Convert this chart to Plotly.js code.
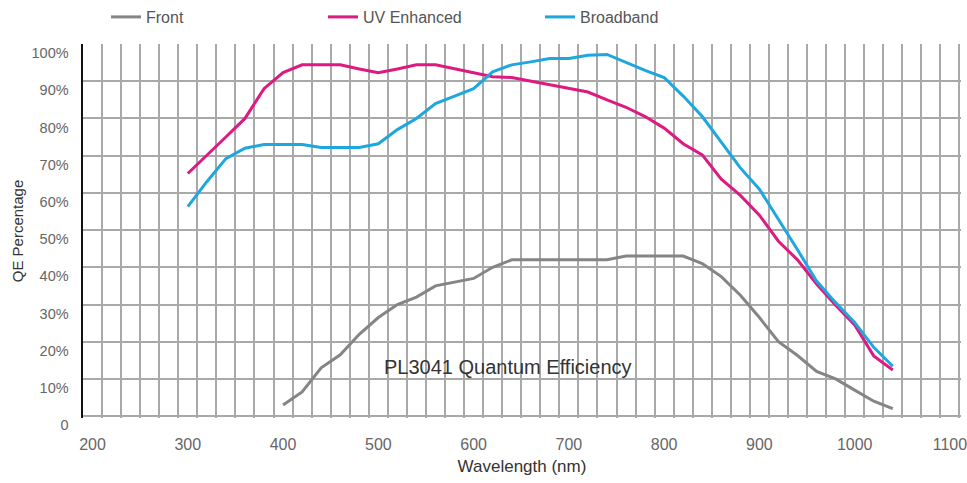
<!DOCTYPE html>
<html><head><meta charset="utf-8">
<script src="https://cdn.plot.ly/plotly-3.0.1.min.js"></script>
<style>html,body{margin:0;padding:0;background:#fff}#chart{width:967px;height:483px}</style>
</head><body><div id="chart"></div>
<script>
const wavelengthFront = [400,420,440,460,480,500,520,540,560,580,600,620,640,660,680,700,720,740,760,780,800,820,840,860,880,900,920,940,960,980,1000,1020,1040];
const front = [3,6.5,13,16.5,22,26.5,30,32,35,36,37,40,42,42,42,42,42,42,43,43,43,43,41,37.5,32.5,26.5,20,16.3,12,10,7,4,2];
const wavelength = [300,320,340,360,380,400,420,440,460,480,500,520,540,560,580,600,620,640,660,680,700,720,740,760,780,800,820,840,860,880,900,920,940,960,980,1000,1020,1040];
const uvEnhanced = [65.2,70,75,80,88,92.3,94.4,94.4,94.4,93.3,92.3,93.3,94.4,94.4,93.3,92.4,91.2,91,90,89,88,87.1,85,83,80.5,77.4,73.2,70.2,63.7,59.3,54,47,42,35.5,29.8,24.5,16.2,12.4];
const broadband = [56.3,63,69.2,72,73,73,73,72.2,72.2,72.2,73.2,77,80,84,86,88,92.5,94.4,95.2,96.1,96.1,97,97.2,95,92.9,91,86,80.5,73.5,66.7,61,53,44.7,36.3,30.5,25.2,18.5,13.4];
const xTickVals = [200,300,400,500,600,700,800,900,1000,1100];
const xTickText = ['200','300','400','500','600','700','800','900','1000','1100'];
const yTickVals = [0,10,20,30,40,50,60,70,80,90,100];
const yTickText = ['0','10%','20%','30%','40%','50%','60%','70%','80%','90%','100%'];
const yGridVals = [0,10,20,30,40,50,60,70,80,90];
const seriesNames = ['Front','UV Enhanced','Broadband'];
const seriesColors = ['#858585','#dc1a82','#1ea7df'];

const gridColor = '#a9a9a9';
const traces = [
  {x: wavelengthFront, y: front, name: seriesNames[0], type: 'scatter', mode: 'lines', line: {color: seriesColors[0], width: 3}},
  {x: wavelength, y: uvEnhanced, name: seriesNames[1], type: 'scatter', mode: 'lines', line: {color: seriesColors[1], width: 3}},
  {x: wavelength, y: broadband, name: seriesNames[2], type: 'scatter', mode: 'lines', line: {color: seriesColors[2], width: 3}}
];
const layout = {
  width: 967, height: 483,
  margin: {l: 83, r: 6, t: 44, b: 65},
  paper_bgcolor: '#ffffff', plot_bgcolor: '#ffffff',
  font: {family: 'Liberation Sans, Arial, sans-serif', color: '#555'},
  showlegend: true,
  legend: {orientation: 'h', xref: 'container', yref: 'container', x: 106/967, y: 1, xanchor: 'left', yanchor: 'top',
           font: {family: 'Liberation Sans, Arial, sans-serif', size: 16, color: '#555'},
           entrywidth: 172, entrywidthmode: 'pixels', traceorder: 'normal', bgcolor: 'rgba(0,0,0,0)'},
  xaxis: {range: [190, 1111.6], tickmode: 'array', tickvals: xTickVals, ticktext: xTickText,
          showgrid: false, zeroline: false, showline: false, ticks: '',
          tickfont: {family: 'Liberation Sans, Arial, sans-serif', size: 16, color: '#666'},
          ticklabelstandoff: 15, ticklabeloverflow: 'allow',
          minor: {tick0: 210, dtick: 20, showgrid: true, gridcolor: gridColor, gridwidth: 2, ticks: ''},
          title: {text: 'Wavelength (nm)', font: {family: 'Liberation Sans, Arial, sans-serif', size: 17, color: '#333'}, standoff: 8}},
  yaxis: {range: [-0.5, 100], tickmode: 'array', tickvals: yTickVals, ticktext: yTickText,
          showgrid: false, zeroline: false, showline: true, linecolor: '#111', linewidth: 2.5,
          ticks: 'outside', ticklen: 0, tickcolor: 'rgba(0,0,0,0)',
          ticklabelshift: 9, ticklabelstandoff: 9,
          minor: {tickmode: 'array', tickvals: yGridVals, ticks: 'inside', ticklen: 0, tickcolor: 'rgba(0,0,0,0)',
                  showgrid: true, gridcolor: gridColor, gridwidth: 2},
          tickfont: {family: 'Liberation Sans, Arial, sans-serif', size: 14.5, color: '#666'},
          title: {text: 'QE Percentage', font: {family: 'Liberation Sans, Arial, sans-serif', size: 15, color: '#333'}, standoff: 5}},
  annotations: [{x: 636, y: 13.2, xref: 'x', yref: 'y', text: 'PL3041 Quantum Efficiency', showarrow: false,
                 font: {family: 'Liberation Sans, Arial, sans-serif', size: 20, color: '#333'}}]
};
Plotly.newPlot('chart', traces, layout, {displayModeBar: false, staticPlot: true});
</script>
</body></html>
